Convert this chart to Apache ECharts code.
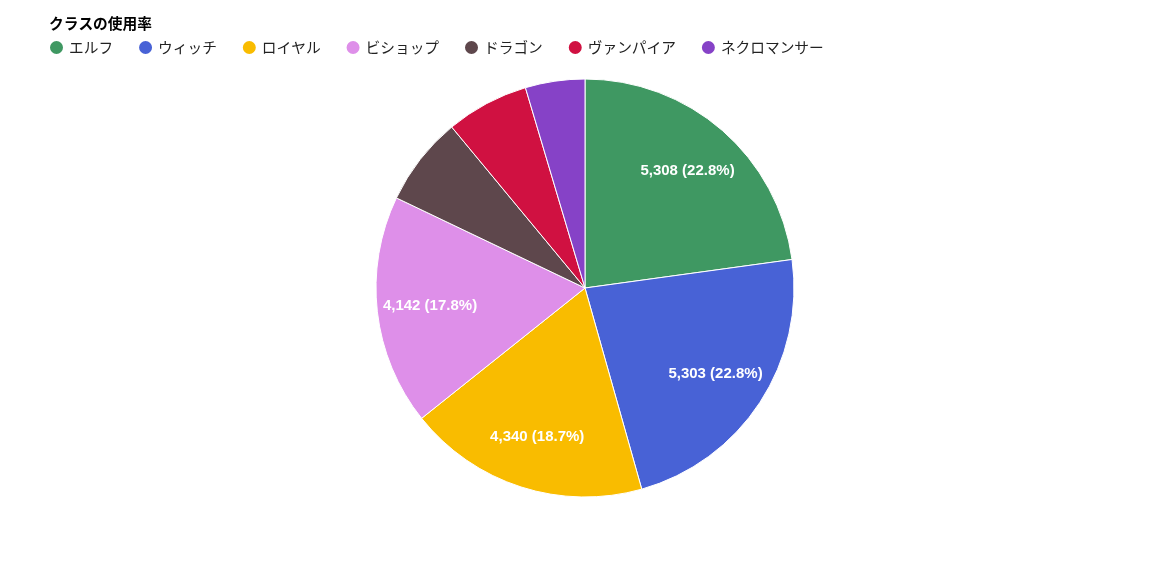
<!DOCTYPE html>
<html><head><meta charset="utf-8">
<script src="https://cdn.jsdelivr.net/npm/echarts@6/dist/echarts.min.js"></script>
<style>html,body{margin:0;padding:0;background:#fff}#c{width:1153px;height:575px}</style>
</head><body><div id="c"></div>
<script>
const titleText = 'クラスの使用率';
const categories = ['エルフ','ウィッチ','ロイヤル','ビショップ','ドラゴン','ヴァンパイア','ネクロマンサー'];
const values = [5308, 5303, 4340, 4142, 1605, 1490, 1070];
const colors = ['#3F9862','#4862D6','#F9BC00','#DE8FE9','#5E474C','#D01141','#8642C7'];

const total = values.reduce((a,b)=>a+b,0);
const data = categories.map((n,i)=>({name:n, value:values[i], itemStyle:{color:colors[i]}}));
const fmt = v => v.toLocaleString('en-US');
const labelData = categories.map((n,i)=>({name:n, value:values[i]}));

const chart = echarts.init(document.getElementById('c'));
chart.setOption({
  animation:false,
  title:{text:titleText,left:44,top:11,textStyle:{fontFamily:'Noto Sans CJK JP',fontSize:14.7,fontWeight:'bold',color:'#000'}},
  legend:{left:43,top:34,icon:'circle',itemWidth:15,itemHeight:15,itemGap:24,
    textStyle:{fontFamily:'Noto Sans CJK JP',fontSize:14.7,color:'#222'},data:categories},
  series:[
    {type:'pie',center:[585,288],radius:[0,209],startAngle:90,clockwise:true,
     data:data,label:{show:false},labelLine:{show:false},
     itemStyle:{borderColor:'#fff',borderWidth:1},emphasis:{disabled:true}},
    {type:'pie',center:[585,288],radius:[96,210],startAngle:90,clockwise:true,silent:true,
     legendHoverLink:false,
     data:labelData,itemStyle:{color:'rgba(0,0,0,0)'},labelLine:{show:false},
     label:{show:true,position:'inside',fontFamily:'Liberation Sans',fontSize:15,fontWeight:'bold',color:'#fff',
       formatter:p=>{const pct=p.value/total*100; return pct>=10?fmt(p.value)+' ('+pct.toFixed(1)+'%)':'';}},
     emphasis:{disabled:true}}
  ]
});
</script></body></html>
